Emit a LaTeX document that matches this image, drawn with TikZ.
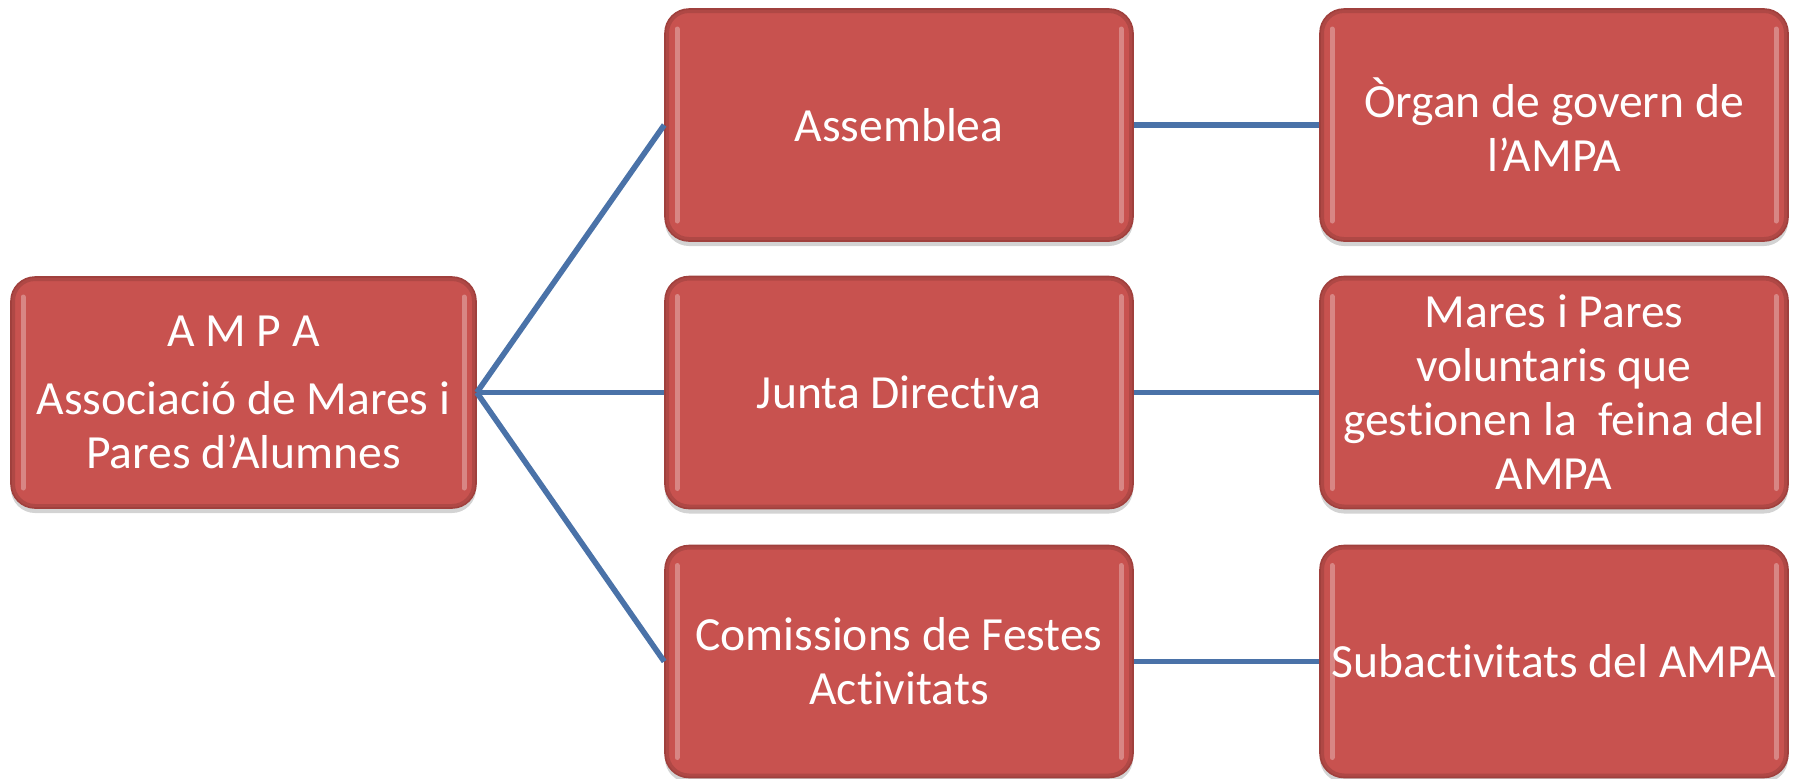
\documentclass[tikz,border=0pt]{standalone}
\usepackage{fontspec}
\setmainfont{Carlito}[Ligatures=NoCommon]
\usetikzlibrary{shadows}
\definecolor{boxred}{HTML}{C8524F}
\definecolor{boxdark}{HTML}{A0403D}
\definecolor{linkblue}{HTML}{4A72A8}
\tikzset{
  box/.style={rectangle, rounded corners=12pt, fill=boxred, draw=boxdark, line width=0.8pt,
    minimum width=234pt, minimum height=116pt, text=white, align=center,
    font=\fontsize{23.8}{27}\selectfont, inner sep=1pt,
    drop shadow={opacity=0.35, shadow xshift=0pt, shadow yshift=-2.5pt},
    path picture={
      \draw[white, opacity=0.3, line width=2.5pt, line cap=round]
        ([xshift=6pt,yshift=-10pt]path picture bounding box.north west) --
        ([xshift=6pt,yshift=10pt]path picture bounding box.south west);
      \draw[white, opacity=0.3, line width=2.5pt, line cap=round]
        ([xshift=-6pt,yshift=-10pt]path picture bounding box.north east) --
        ([xshift=-6pt,yshift=10pt]path picture bounding box.south east);
      \draw[black, opacity=0.12, line width=4pt, rounded corners=12pt]
        (path picture bounding box.north west) rectangle (path picture bounding box.south east);
    }},
  link/.style={draw=linkblue, line width=2.8pt}
}
\begin{document}
\begin{tikzpicture}[x=0.5pt,y=-0.5pt]
\useasboundingbox (0,0) rectangle (1798,778);
\node[box, minimum width=232.5pt, minimum height=115.5pt] (ampa) at (243.5,392.5)
  {A M P A\\[7pt]Associació de Mares i\\Pares d’Alumnes};
\node[box] (asm) at (899,125) {Assemblea};
\node[box] (junta) at (899,392.5) {Junta Directiva};
\node[box] (com) at (899,661.5) {Comissions de Festes\\Activitats};
\node[box] (organ) at (1554,125) {Òrgan de govern de\\l’AMPA};
\node[box] (mares) at (1554,392.5) {Mares i Pares\\voluntaris que\\gestionen la\ \ feina del\\AMPA};
\node[box] (sub) at (1554,661.5) {Subactivitats del AMPA};
\draw[link] (ampa.east) -- (asm.west);
\draw[link] (ampa.east) -- (junta.west);
\draw[link] (ampa.east) -- (com.west);
\draw[link] (asm.east) -- (organ.west);
\draw[link] (junta.east) -- (mares.west);
\draw[link] (com.east) -- (sub.west);
\end{tikzpicture}
\end{document}
